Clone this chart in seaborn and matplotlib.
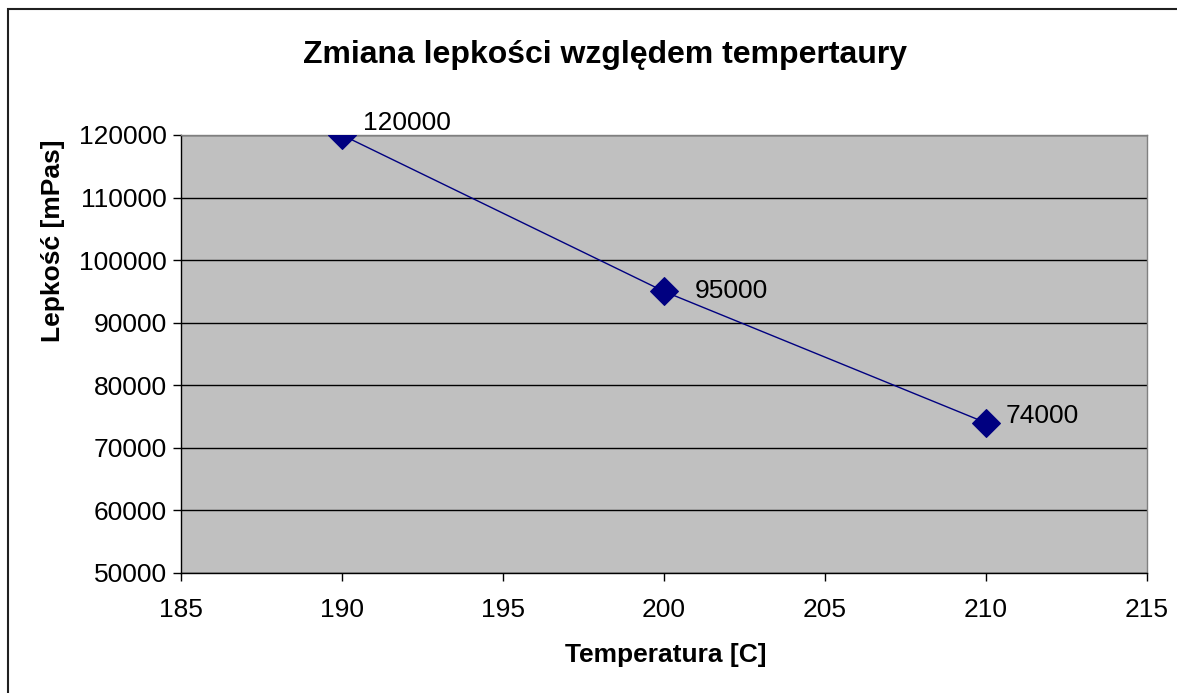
import matplotlib
matplotlib.use("Agg")
import matplotlib.pyplot as plt
import seaborn as sns
import pandas as pd
from matplotlib.patches import Rectangle

temperature = [190, 200, 210]
viscosity = [120000, 95000, 74000]
point_labels = ["120000", "95000", "74000"]
title = "Zmiana lepkości względem tempertaury"
xlabel = "Temperatura [C]"
ylabel = "Lepkość [mPas]"

sns.set_theme(style="white")
plt.rcParams['font.family'] = ['Liberation Sans', 'DejaVu Sans']
plt.rcParams['text.color'] = 'black'

df = pd.DataFrame({"t": temperature, "v": viscosity})

fig = plt.figure(figsize=(11.77, 6.93), dpi=100)
ax = fig.add_axes([181/1177, 1-573/693, (1147-181)/1177, (573-135)/693])
ax.set_facecolor("#c0c0c0")

sns.lineplot(data=df, x="t", y="v", ax=ax, color="#000080", linewidth=1.0,
             marker="D", markersize=14, markeredgecolor="#000080", zorder=3)

offsets = {120000: (15, 9), 95000: (22, 0), 74000: (14, 5)}
for t, v, lab in zip(temperature, viscosity, point_labels):
    ax.annotate(lab, (t, v), xytext=offsets[v], textcoords="offset points",
                fontsize=19, va="center", ha="left", color="black", zorder=4)

ax.set_xlim(185, 215)
ax.set_ylim(50000, 120000)
ax.set_xticks(range(185, 216, 5))
ax.set_yticks(range(50000, 120001, 10000))
ax.yaxis.grid(True, color="black", linewidth=1.0)
ax.xaxis.grid(False)
ax.set_axisbelow(True)

ax.tick_params(axis="both", direction="out", length=6, width=1, colors="black",
               labelsize=19, bottom=True, left=True)
ax.tick_params(axis="x", pad=12)
ax.tick_params(axis="y", pad=4)
for s in ["top", "right"]:
    ax.spines[s].set_color("#808080")
    ax.spines[s].set_linewidth(1.0)
for s in ["left", "bottom"]:
    ax.spines[s].set_color("black")
    ax.spines[s].set_linewidth(1.0)

ax.set_xlabel("")
ax.set_ylabel("")
fig.text(666/1177, 1-655/693, xlabel, fontsize=19, fontweight="bold", ha="center", va="center", color="black")
fig.text(53/1177, 1-241/693, ylabel, fontsize=19, fontweight="bold", ha="center", va="center",
         rotation=90, color="black")
fig.text(605/1177, 1-55/693, title, fontsize=23, fontweight="bold", ha="center", va="center", color="black")

fig.patches.append(Rectangle((8/1177, -0.05), 1.1, 1.05 - 9/693, transform=fig.transFigure,
                             fill=False, edgecolor="#202020", linewidth=1.5))

fig.savefig("out.png", dpi=100)
